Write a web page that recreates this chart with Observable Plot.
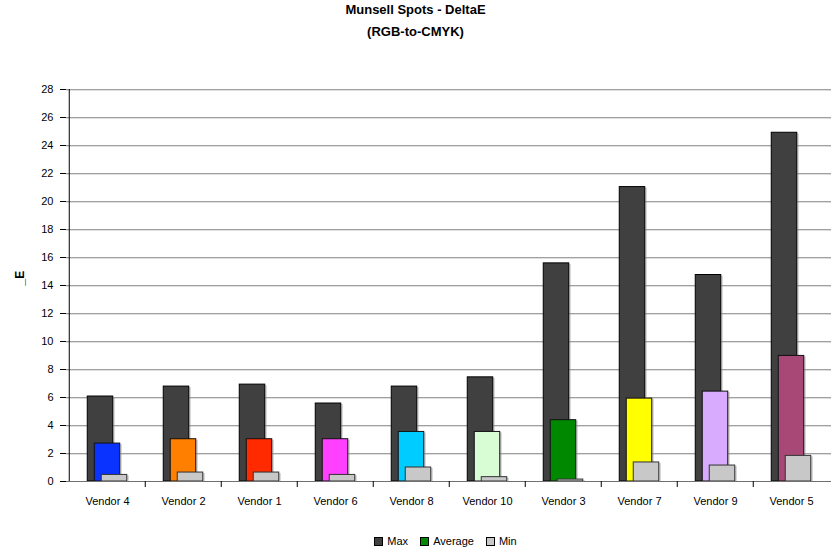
<!DOCTYPE html>
<html>
<head>
<meta charset="utf-8">
<script src="https://cdn.jsdelivr.net/npm/d3@7"></script>
<script src="https://cdn.jsdelivr.net/npm/@observablehq/plot@0.6"></script>
<style>
  html, body { margin: 0; padding: 0; background: #fff; }
  body { width: 831px; height: 554px; overflow: hidden; font-family: "Liberation Sans", Arial, sans-serif; color: #000; }
  #title { width: 831px; height: 50px; text-align: center; font-weight: bold; font-size: 13px; line-height: 22px; }
  #title div:first-child { margin-top: -1px; }
  #chart svg { display: block; }
  #legend { width: 831px; height: 32px; display: flex; justify-content: center; align-items: flex-start; padding-left: 60px; box-sizing: border-box; padding-top: 14px; font-size: 11px; line-height: 12px; }
  .item { display: flex; align-items: center; margin: 0 6px; }
  .sw { width: 7px; height: 7px; border: 1px solid #000; margin-right: 4px; }
</style>
</head>
<body>
<div id="title"><div>Munsell Spots - DeltaE</div><div>(RGB-to-CMYK)</div></div>
<div id="chart"></div>
<div id="legend"></div>
<script>
// Vendors in display order
const vendors = ["Vendor 4", "Vendor 2", "Vendor 1", "Vendor 6", "Vendor 8", "Vendor 10", "Vendor 3", "Vendor 7", "Vendor 9", "Vendor 5"];
// DeltaE statistics per vendor
const maxValues = [6.07, 6.78, 6.92, 5.57, 6.78, 7.44, 15.58, 21.03, 14.75, 24.91];
const avgValues = [2.71, 3.02, 3.02, 3.02, 3.54, 3.54, 4.38, 5.92, 6.42, 8.97];
const minValues = [0.47, 0.64, 0.64, 0.47, 1.0, 0.31, 0.14, 1.36, 1.14, 1.83];
// Fill for each vendor's Average bar
const avgColors = ["#0a33ff", "#ff8000", "#ff2a00", "#ff40ff", "#00ccff", "#d8fcd4", "#008800", "#ffff00", "#d8abff", "#a84876"];
const yTicks = [0, 2, 4, 6, 8, 10, 12, 14, 16, 18, 20, 22, 24, 26, 28];
const seriesNames = ["Max", "Average", "Min"];
const seriesColors = ["#404040", "#008800", "#c8c8c8"];

const rows = vendors.map((v, i) => ({vendor: v, max: maxValues[i], avg: avgValues[i], min: minValues[i], color: avgColors[i]}));

const W = 831, H = 472, ML = 66, MR = 0, MT = 40, MB = 40;
const bw = (W - ML - MR) / vendors.length;
const barW = 26, off = 7;
const inset = (c) => ({insetLeft: bw / 2 + c - barW / 2, insetRight: bw / 2 - c - barW / 2});

const chart = Plot.plot({
  width: W,
  height: H,
  marginLeft: ML,
  marginRight: MR,
  marginTop: MT,
  marginBottom: MB,
  style: {fontFamily: "Liberation Sans, Arial, sans-serif", fontSize: "11px", color: "#000", background: "#fff"},
  x: {domain: vendors, padding: 0, label: null},
  y: {domain: [0, 28], label: null},
  marks: [
    // horizontal gridlines
    Plot.ruleY(yTicks.slice(1), {stroke: "#dedede", dy: 1}),
    Plot.ruleY(yTicks.slice(1), {stroke: "#a0a0a0"}),
    // Max bars (back)
    Plot.barY(rows, {x: "vendor", y: "max", fill: "#9a9a9a", fillOpacity: 0.5, dx: 2, dy: 1, ...inset(-off)}),
    Plot.barY(rows, {x: "vendor", y: "max", fill: "#404040", stroke: "#000", strokeWidth: 1, ...inset(-off)}),
    // Average bars (middle)
    Plot.barY(rows, {x: "vendor", y: "avg", fill: "#9a9a9a", fillOpacity: 0.5, dx: 2, dy: 1, ...inset(0)}),
    Plot.barY(rows, {x: "vendor", y: "avg", fill: "color", stroke: "#111", strokeWidth: 1, ...inset(0)}),
    // Min bars (front)
    Plot.barY(rows, {x: "vendor", y: "min", fill: "#9a9a9a", fillOpacity: 0.5, dx: 2, dy: 1, ...inset(off)}),
    Plot.barY(rows, {x: "vendor", y: "min", fill: "#c8c8c8", stroke: "#333", strokeWidth: 1, ...inset(off)}),
    // x axis line and category boundary ticks
    Plot.ruleY([0], {stroke: "#707070"}),
    Plot.ruleX(vendors.slice(1), {x: (d) => d, dx: -bw / 2, y1: 0, y2: 0, insetTop: 6, stroke: "#000"}),
    // y axis line
    Plot.ruleX([vendors[0]], {x: (d) => d, dx: -bw / 2, y1: 0, y2: 28, stroke: "#000"}),
    Plot.axisY({ticks: yTicks, tickSize: 6, tickPadding: 7, label: null, tickFormat: d3.format("d")}),
    Plot.axisX({tickSize: 0, tickPadding: 16, label: null}),
    // y axis title
    Plot.text(["_E"], {frameAnchor: "left", y: 14, dx: -46, rotate: -90, fontWeight: "bold", fontSize: 12})
  ]
});
document.getElementById("chart").appendChild(chart);

// Legend
const legend = document.getElementById("legend");
seriesNames.forEach((name, i) => {
  const item = document.createElement("div");
  item.className = "item";
  const sw = document.createElement("div");
  sw.className = "sw";
  sw.style.background = seriesColors[i];
  item.appendChild(sw);
  item.appendChild(document.createTextNode(name));
  legend.appendChild(item);
});
</script>
</body>
</html>
